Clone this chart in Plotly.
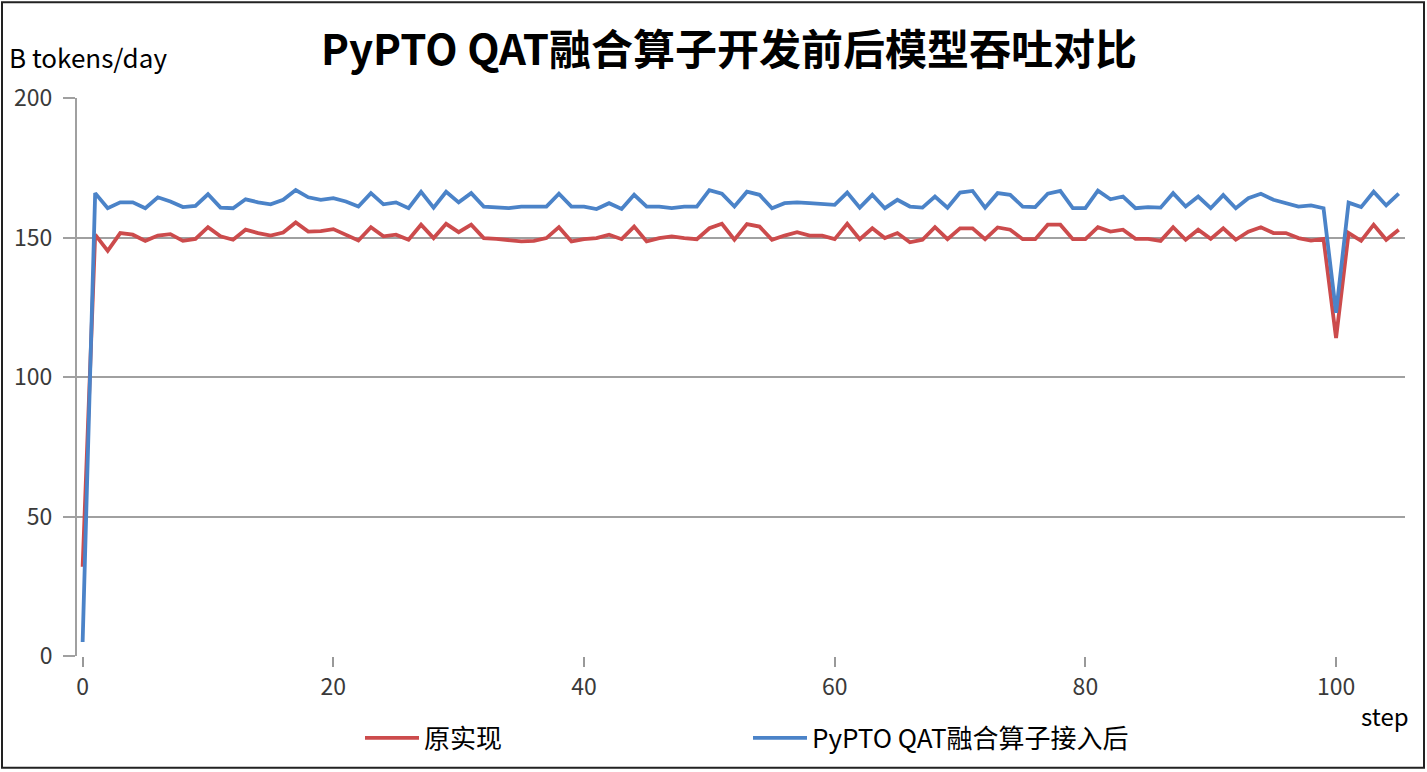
import plotly.graph_objects as go

#----------------------------------------------------------------------
# Dados
#----------------------------------------------------------------------
steps = list(range(106))

orig = [32, 151, 145.2, 151.6, 151, 148.8, 150.7, 151.2, 148.8, 149.5,
        153.7, 150.4, 149.2, 152.8, 151.6, 150.7, 151.8, 155.4, 152.1, 152.3,
        153, 151, 148.9, 153.7, 150.4, 151, 149.2, 154.6, 149.8, 154.9,
        151.9, 154.6, 149.8, 149.5, 149.2, 148.6, 148.8, 149.8, 153.7, 148.6,
        149.4, 149.8, 151, 149.4, 153.9, 148.6, 149.8, 150.4, 149.8, 149.4,
        153.3, 154.9, 149.2, 154.8, 153.9, 149.2, 150.7, 151.9, 150.7, 150.7,
        149.4, 154.9, 149.4, 153.3, 149.8, 151.6, 148.3, 149.2, 153.7, 149.4,
        153.3, 153.3, 149.4, 153.6, 152.8, 149.4, 149.4, 154.6, 154.6, 149.4,
        149.4, 153.7, 152.1, 152.8, 149.5, 149.5, 148.8, 153.7, 149.2, 152.8,
        149.5, 153.3, 149.2, 152.1, 153.7, 151.6, 151.6, 149.8, 148.9, 149.5,
        114, 151.6, 148.8, 154.6, 149.2, 152.8]

pypto = [5, 165.9, 160.5, 162.6, 162.6, 160.5, 164.4, 162.9, 160.9, 161.3,
         165.5, 160.7, 160.5, 163.7, 162.6, 161.9, 163.5, 167.0, 164.4, 163.5,
         164.1, 162.9, 161.1, 165.9, 161.9, 162.6, 160.5, 166.4, 160.7, 166.4,
         162.6, 165.9, 161.1, 160.9, 160.5, 161.1, 161.1, 161.1, 165.7, 161.1,
         161.1, 160.2, 162.3, 160.2, 165.3, 161.1, 161.1, 160.5, 161.1, 161.1,
         167, 165.7, 161.1, 166.4, 165.3, 160.5, 162.3, 162.6, 162.3, 161.9,
         161.7, 166.1, 160.7, 165.3, 160.5, 163.5, 161.1, 160.7, 164.7, 160.7,
         166.1, 166.7, 160.7, 165.9, 165.3, 161.1, 160.9, 165.7, 166.7, 160.5,
         160.5, 166.8, 163.7, 164.7, 160.5, 160.9, 160.7, 165.9, 161.1, 164.7,
         160.5, 165.2, 160.5, 164.1, 165.7, 163.5, 162.3, 161.1, 161.5, 160.5,
         123, 162.5, 160.9, 166.4, 161.5, 165.7]

nomes = ['原实现', 'PyPTO QAT融合算子接入后']
cores = ['#cc4b4c', '#4b83c8']

titulo = 'PyPTO QAT融合算子开发前后模型吞吐对比'
rotulo_y = 'B tokens/day'
rotulo_x = 'step'

#----------------------------------------------------------------------
# Geometria (pixels)
#----------------------------------------------------------------------
W, H = 1427, 772
ml, mr, mt, mb = 77, 22, 98, 115
pw = W - ml - mr
ph = H - mt - mb

def px(x):
    return (x - ml) / pw

def py(y):
    return (H - mb - y) / ph

fonte = 'Noto Sans CJK SC'

fig = go.Figure()

fig.add_trace(go.Scatter(x=steps, y=orig, mode='lines', name=nomes[0],
                         line=dict(color=cores[0], width=3.8)))
fig.add_trace(go.Scatter(x=steps, y=pypto, mode='lines', name=nomes[1],
                         line=dict(color=cores[1], width=3.8)))

fig.update_layout(
    width=W, height=H,
    margin=dict(l=ml, r=mr, t=mt, b=mb),
    paper_bgcolor='white', plot_bgcolor='white',
    font=dict(family=fonte, color='black'),
    showlegend=True,
    legend=dict(orientation='h', x=px(360), xanchor='left',
                y=py(738), yanchor='middle',
                font=dict(size=26, color='black'),
                itemwidth=54, entrywidth=319, entrywidthmode='pixels',
                bgcolor='rgba(0,0,0,0)'),
    xaxis=dict(range=[-0.45, 105.5], tickvals=[0, 20, 40, 60, 80, 100],
               showgrid=False, zeroline=False, showline=False,
               ticks='outside', ticklen=10, tickwidth=2, tickcolor='#999999',
               tickfont=dict(size=23, color='#3a3a3a')),
    yaxis=dict(range=[0, 200], tickvals=[0, 50, 100, 150, 200],
               showgrid=True, gridcolor='#a0a0a0', gridwidth=2,
               zeroline=False, showline=True, linecolor='#a0a0a0', linewidth=2,
               ticks='outside', ticklen=12, tickwidth=2, tickcolor='#a0a0a0',
               ticklabelstandoff=6,
               tickfont=dict(size=23, color='#3a3a3a')),
    annotations=[
        dict(text='<b>' + titulo + '</b>', x=px(729), y=py(46),
             xref='paper', yref='paper', xanchor='center', yanchor='middle',
             showarrow=False, font=dict(size=42, color='black', family=fonte)),
        dict(text=rotulo_y, x=px(7), y=py(56),
             xref='paper', yref='paper', xanchor='left', yanchor='middle',
             showarrow=False, font=dict(size=26, color='black')),
        dict(text=rotulo_x, x=px(1385), y=py(717),
             xref='paper', yref='paper', xanchor='center', yanchor='middle',
             showarrow=False, font=dict(size=24, color='black')),
    ],
    shapes=[
        dict(type='rect', xref='paper', yref='paper',
             x0=px(2), x1=px(1424), y0=py(769), y1=py(2),
             line=dict(color='#222222', width=2), fillcolor='rgba(0,0,0,0)'),
    ],
)

# tira a margem padrao do body para a figura ocupar a janela inteira
fig.write_html('out.html', config={'displayModeBar': False},
               post_script="document.body.style.margin='0';")
